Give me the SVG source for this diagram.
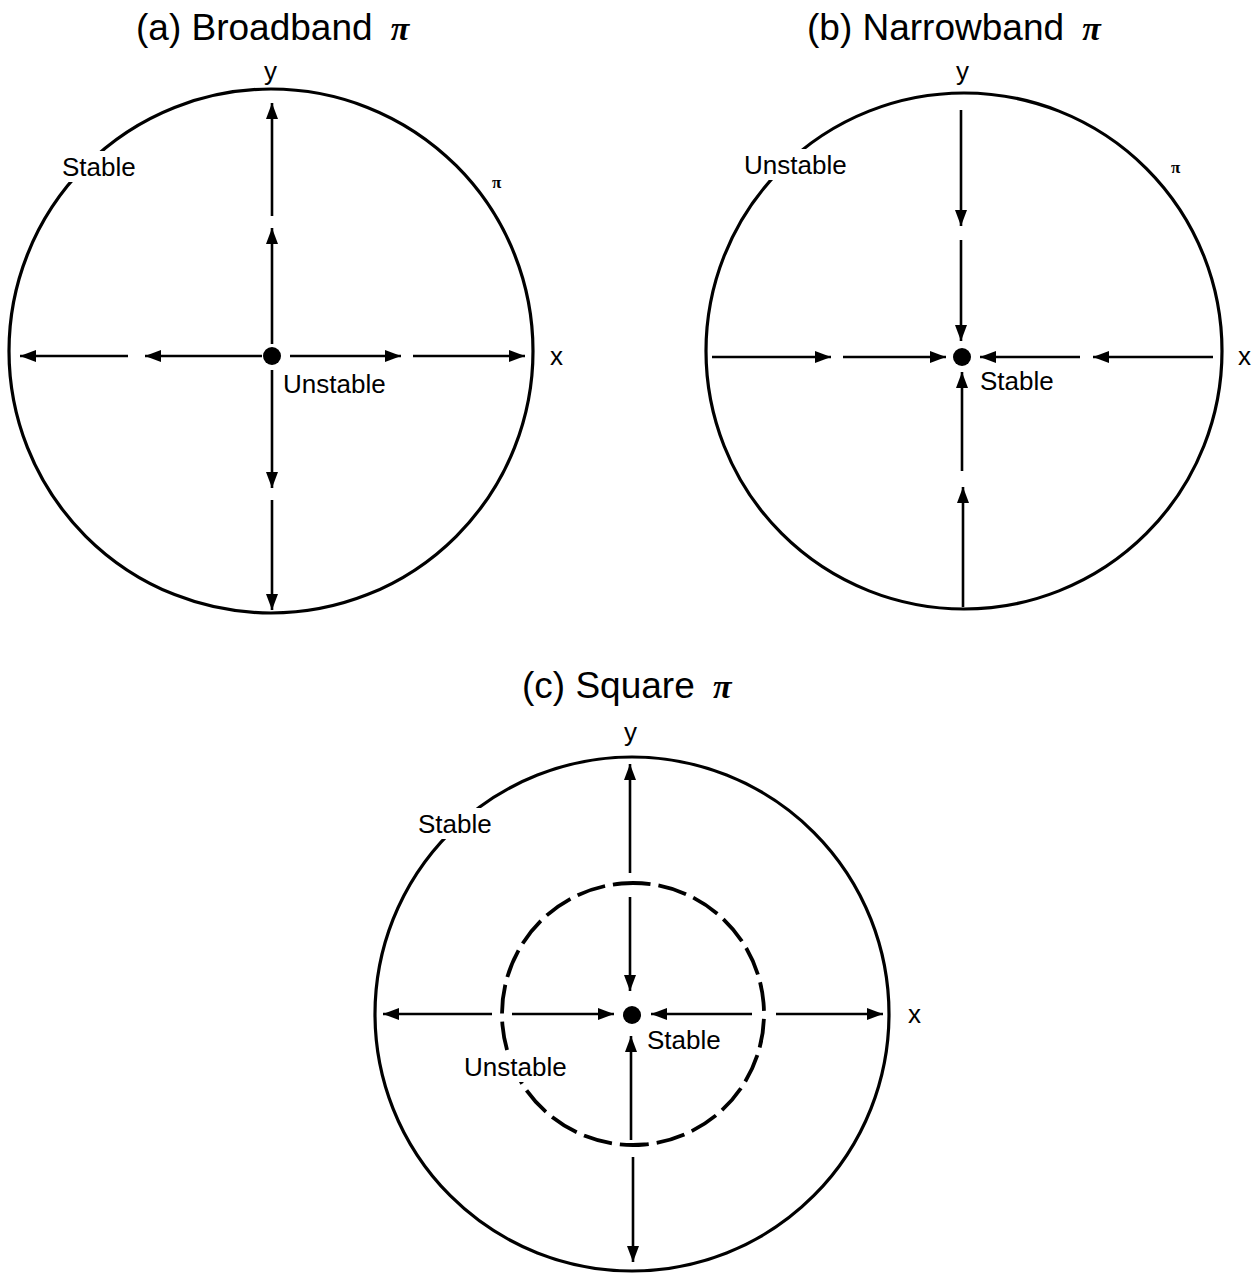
<svg xmlns="http://www.w3.org/2000/svg" width="1259" height="1274" viewBox="0 0 1259 1274">
<defs>
<marker id="ah" markerUnits="userSpaceOnUse" markerWidth="18" markerHeight="13" refX="16" refY="6" orient="auto">
<path d="M0,0 L16,6 L0,12 z" fill="#000"/>
</marker>
</defs>
<style>
.c{fill:none;stroke:#000;stroke-width:3.2}
.d{fill:none;stroke:#000;stroke-width:3.8;stroke-dasharray:29 8}
.a{stroke:#000;stroke-width:2.6;fill:none;marker-end:url(#ah)}
.t{font-family:"Liberation Sans",Arial,sans-serif;font-size:37px;fill:#000}
.l{font-family:"Liberation Sans",Arial,sans-serif;font-size:26px;fill:#000}
.p{font-family:"Liberation Serif","Times New Roman",serif;font-style:italic;font-weight:bold;font-size:34px}
.ps{font-family:"Liberation Serif","Times New Roman",serif;font-weight:bold;font-size:17px;fill:#000}
.bg{fill:#fff}
</style>
<rect width="1259" height="1274" fill="#fff"/>
<g id="panel-a">
<text class="t" x="136" y="40">(a) Broadband <tspan class="p" dx="8">π</tspan></text>
<g id="a-circle"><circle class="c" cx="271" cy="351" r="262"/></g>
<g id="a-dot"><circle cx="272" cy="356" r="9" fill="#000"/></g>
<text class="l" x="264" y="80">y</text>
<text class="l" x="550" y="365">x</text>
<rect class="bg" x="57" y="151" width="82" height="31"/>
<text class="l" x="62" y="176">Stable</text>
<text class="ps" x="492" y="188">π</text>
<text class="l" x="283" y="393">Unstable</text>
</g>
<g id="panel-b">
<text class="t" x="807" y="40">(b) Narrowband <tspan class="p" dx="8">π</tspan></text>
<g id="b-circle"><circle class="c" cx="964" cy="351" r="258"/></g>
<g id="b-dot"><circle cx="962" cy="357" r="9" fill="#000"/></g>
<text class="l" x="956" y="80">y</text>
<text class="l" x="1238" y="365">x</text>
<rect class="bg" x="739" y="149" width="111" height="31"/>
<text class="l" x="744" y="174">Unstable</text>
<text class="ps" x="1171" y="173">π</text>
<text class="l" x="980" y="390">Stable</text>
</g>
<g id="panel-c">
<text class="t" x="522" y="698">(c) Square <tspan class="p" dx="8">π</tspan></text>
<g id="c-outer"><circle class="c" cx="632" cy="1014" r="257"/></g>
<g id="c-inner"><circle class="d" cx="633" cy="1014" r="131" transform="rotate(-95 633 1014)"/></g>
<g id="c-dot"><circle cx="632" cy="1015" r="9" fill="#000"/></g>
<text class="l" x="624" y="741">y</text>
<text class="l" x="908" y="1023">x</text>
<rect class="bg" x="413" y="808" width="82" height="31"/>
<text class="l" x="418" y="833">Stable</text>
<rect class="bg" x="459" y="1051" width="111" height="31"/>
<text class="l" x="464" y="1076">Unstable</text>
<text class="l" x="647" y="1049">Stable</text>
</g>
<g id="connectors">
<line class="a" x1="272" y1="344" x2="272" y2="228"/>
<line class="a" x1="272" y1="216" x2="272" y2="103"/>
<line class="a" x1="272" y1="370" x2="272" y2="488"/>
<line class="a" x1="272" y1="500" x2="272" y2="610"/>
<line class="a" x1="262" y1="356" x2="145" y2="356"/>
<line class="a" x1="128" y1="356" x2="20" y2="356"/>
<line class="a" x1="290" y1="356" x2="401" y2="356"/>
<line class="a" x1="413" y1="356" x2="525" y2="356"/>
<line class="a" x1="961" y1="110" x2="961" y2="226"/>
<line class="a" x1="961" y1="240" x2="961" y2="341"/>
<line class="a" x1="963" y1="607" x2="963" y2="487"/>
<line class="a" x1="962" y1="471" x2="962" y2="372"/>
<line class="a" x1="712" y1="357" x2="831" y2="357"/>
<line class="a" x1="843" y1="357" x2="946" y2="357"/>
<line class="a" x1="1213" y1="357" x2="1093" y2="357"/>
<line class="a" x1="1080" y1="357" x2="980" y2="357"/>
<line class="a" x1="630" y1="873" x2="630" y2="764"/>
<line class="a" x1="630" y1="897" x2="630" y2="991"/>
<line class="a" x1="631" y1="1140" x2="631" y2="1036"/>
<line class="a" x1="633" y1="1157" x2="633" y2="1262"/>
<line class="a" x1="492" y1="1014" x2="383" y2="1014"/>
<line class="a" x1="512" y1="1014" x2="614" y2="1014"/>
<line class="a" x1="752" y1="1014" x2="651" y2="1014"/>
<line class="a" x1="776" y1="1014" x2="883" y2="1014"/>
</g>
</svg>
